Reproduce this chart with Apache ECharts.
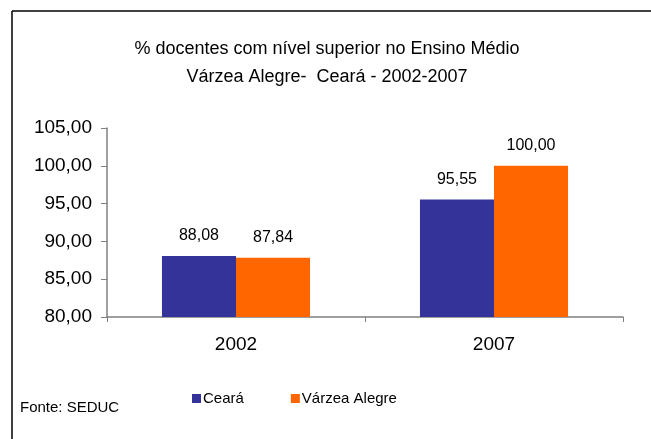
<!DOCTYPE html>
<html>
<head>
<meta charset="utf-8">
<script src="https://cdn.jsdelivr.net/npm/echarts@6/dist/echarts.min.js"></script>
<style>
  html, body { margin: 0; padding: 0; background: #fff; }
  #chart { width: 651px; height: 439px; }
</style>
</head>
<body>
<div id="chart"></div>
<script>
// dados
const anos = ['2002', '2007'];
const ceara = [88.08, 95.55];
const varzeaAlegre = [87.84, 100.00];
const eixoY = { min: 80, max: 105, interval: 5 };

const fmt = v => v.toFixed(2).replace('.', ',');
const fonte = 'Liberation Sans, Arial, sans-serif';

let chart = echarts.init(document.getElementById('chart'));

let options = {
    animation: false,
    backgroundColor: '#fff',
    title: {
        text: '% docentes com nível superior no Ensino Médio\nVárzea Alegre-  Ceará - 2002-2007',
        left: 322,
        textAlign: 'center',
        top: 30,
        textStyle: {
            fontFamily: fonte,
            fontSize: 18,
            fontWeight: 'normal',
            color: '#000',
            lineHeight: 28
        }
    },
    legend: {
        data: ['Ceará', 'Várzea Alegre'],
        left: 187,
        top: 386,
        itemWidth: 9,
        itemHeight: 9,
        itemGap: 47,
        icon: 'rect',
        textStyle: { fontFamily: fonte, fontSize: 15, color: '#000', padding: [0, 0, 0, -3] }
    },
    grid: { left: 107, right: 28, top: 128, bottom: 122, containLabel: false },
    xAxis: {
        type: 'category',
        data: anos,
        axisLine: { lineStyle: { color: '#808080', width: 1.5 } },
        axisTick: { show: true, length: 5, lineStyle: { color: '#808080' } },
        axisLabel: { fontFamily: fonte, fontSize: 19, color: '#000', margin: 18 }
    },
    yAxis: {
        type: 'value',
        min: eixoY.min,
        max: eixoY.max,
        interval: eixoY.interval,
        splitLine: { show: false },
        axisLine: { show: true, lineStyle: { color: '#808080', width: 1.5 } },
        axisTick: { show: true, length: 6, lineStyle: { color: '#808080' } },
        axisLabel: { fontFamily: fonte, fontSize: 19, color: '#000', margin: 15, formatter: fmt }
    },
    series: [
        {
            name: 'Ceará',
            type: 'bar',
            data: ceara,
            barGap: '0%',
            barCategoryGap: '42.6%',
            itemStyle: { color: '#333399' },
            label: {
                show: true, position: 'top', distance: 12,
                fontFamily: fonte, fontSize: 16, color: '#000',
                formatter: p => fmt(p.value)
            }
        },
        {
            name: 'Várzea Alegre',
            type: 'bar',
            data: varzeaAlegre,
            itemStyle: { color: '#FF6600' },
            label: {
                show: true, position: 'top', distance: 12,
                fontFamily: fonte, fontSize: 16, color: '#000',
                formatter: p => fmt(p.value)
            }
        }
    ],
    graphic: [
        { type: 'line', shape: { x1: 12, y1: 11, x2: 651, y2: 11 }, style: { stroke: '#000', lineWidth: 1.5 } },
        { type: 'line', shape: { x1: 12, y1: 11, x2: 12, y2: 439 }, style: { stroke: '#000', lineWidth: 1.5 } },
        {
            type: 'text', left: 20, top: 400,
            style: { text: 'Fonte: SEDUC', fontFamily: fonte, fontSize: 15, fill: '#000' }
        }
    ]
};

chart.setOption(options);
</script>
</body>
</html>
